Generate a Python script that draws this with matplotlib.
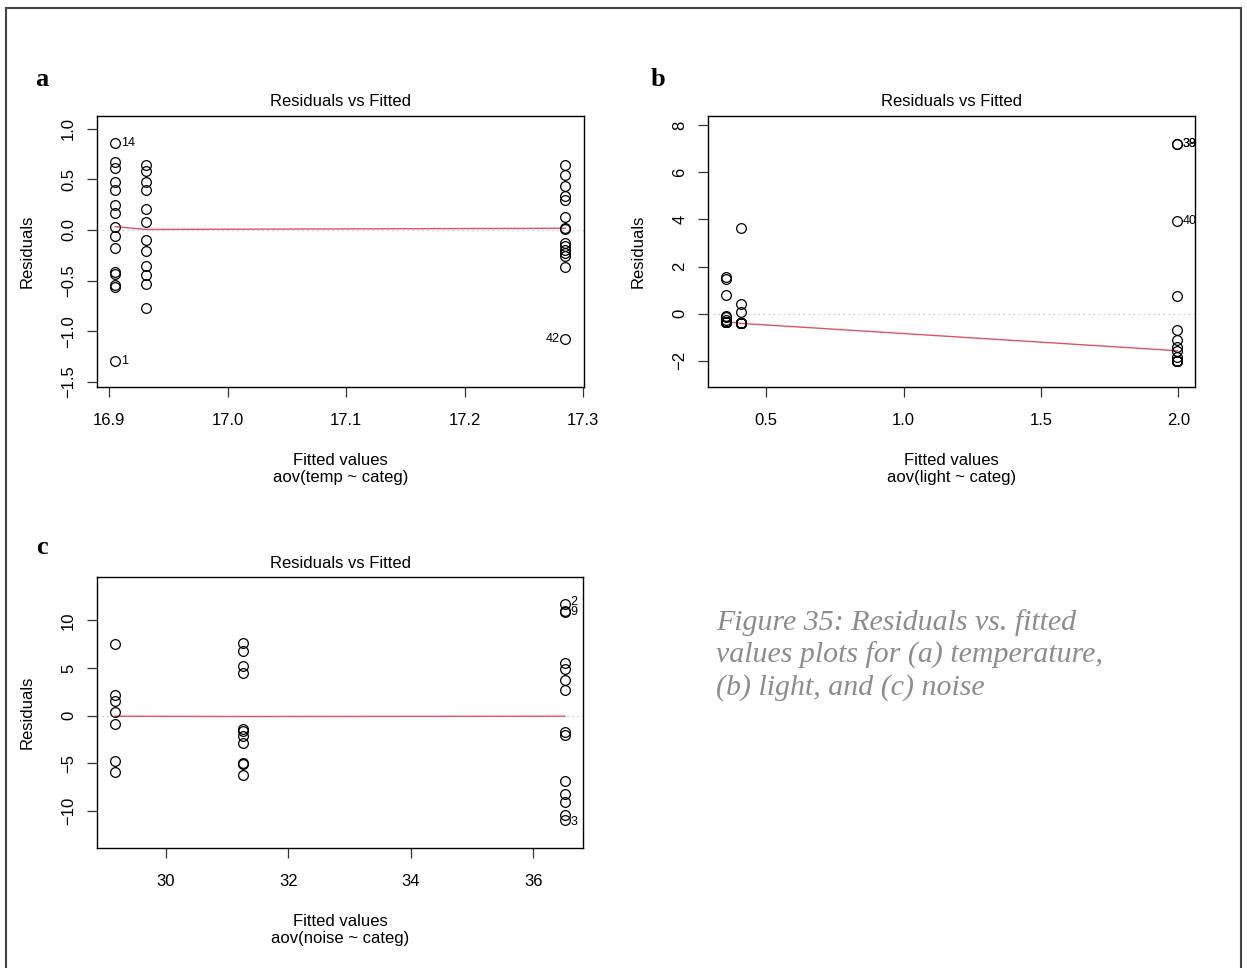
import matplotlib
matplotlib.use("Agg")
import matplotlib.pyplot as plt
from matplotlib.lines import Line2D
import numpy as np

W, H = 1247, 968

# ---- data ----
# panel a: aov(temp ~ categ)
a_fitted = [16.905, 16.931, 17.285]
a_resid = [
    [0.855, 0.668, 0.609, 0.477, 0.395, 0.25, 0.164, 0.033, -0.059, -0.178,
     -0.418, -0.437, -0.539, -0.559, -1.289],
    [0.641, 0.586, 0.477, 0.395, 0.207, 0.079, -0.099, -0.204, -0.355, -0.444,
     -0.536, -0.766],
    [0.642, 0.543, 0.43, 0.336, 0.296, 0.131, 0.02, 0.01, -0.13, -0.16, -0.2,
     -0.23, -0.26, -0.368, -1.079],
]
a_smooth = [0.033, 0.005, 0.017]
a_ids = ["14", "1", "42"]
a_id_x = [16.905, 16.905, 17.285]
a_id_y = [0.855, -1.289, -1.079]
a_id_side = ["r", "r", "l"]
a_xticks = [16.9, 17.0, 17.1, 17.2, 17.3]
a_xticklabels = ["16.9", "17.0", "17.1", "17.2", "17.3"]
a_yticks = [-1.5, -1.0, -0.5, 0.0, 0.5, 1.0]
a_yticklabels = ["\u22121.5", "\u22121.0", "\u22120.5", "0.0", "0.5", "1.0"]

# panel b: aov(light ~ categ)
b_fitted = [0.354, 0.409, 1.996]
b_resid = [
    [1.57, 1.46, 0.78, -0.08, -0.15, -0.25, -0.354, -0.354, -0.354, -0.354,
     -0.354, -0.354, -0.354, -0.354],
    [3.63, 0.41, 0.07, -0.409, -0.409, -0.409, -0.409, -0.409, -0.409, -0.409,
     -0.409, -0.409, -0.409],
    [7.22, 7.22, 3.94, 0.75, -0.7, -1.12, -1.4, -1.6, -1.83, -1.996, -1.996,
     -1.996, -1.996, -1.996, -1.996],
]
b_smooth = [-0.34, -0.41, -1.57]
b_ids = ["38", "39", "40"]
b_id_x = [1.996, 1.996, 1.996]
b_id_y = [7.22, 7.22, 3.94]
b_id_side = ["r", "r", "r"]
b_xticks = [0.5, 1.0, 1.5, 2.0]
b_xticklabels = ["0.5", "1.0", "1.5", "2.0"]
b_yticks = [-2, 0, 2, 4, 6, 8]
b_yticklabels = ["\u22122", "0", "2", "4", "6", "8"]

# panel c: aov(noise ~ categ)
c_fitted = [29.17, 31.26, 36.52]
c_resid = [
    [7.55, 2.13, 1.53, 0.38, -0.91, -4.76, -5.94],
    [7.65, 6.81, 5.17, 4.47, -1.44, -1.61, -2.17, -2.83, -4.97, -5.07, -6.19],
    [11.7, 10.95, 10.85, 5.51, 4.93, 3.7, 2.65, -1.72, -2.07, -6.89, -8.18,
     -9.06, -10.38, -10.9],
]
c_smooth = [-0.05, -0.08, -0.05]
c_ids = ["2", "9", "3"]
c_id_x = [36.52, 36.52, 36.52]
c_id_y = [11.9, 10.85, -11.1]
c_id_side = ["r", "r", "r"]
c_xticks = [30, 32, 34, 36]
c_xticklabels = ["30", "32", "34", "36"]
c_yticks = [-10, -5, 0, 5, 10]
c_yticklabels = ["\u221210", "\u22125", "0", "5", "10"]

SANS = ["Liberation Sans", "DejaVu Sans"]
SERIF = ["Liberation Serif", "DejaVu Serif"]
plt.rcParams["font.family"] = SANS
plt.rcParams["axes.linewidth"] = 1.0


def px(x, y):
    return x / W, 1 - y / H


def panel(box, fitted, resid, smooth, ids, id_x, id_y, id_side,
          xticks, xticklabels, yticks, yticklabels, xlim, ylim, sub):
    x0, y0, x1, y1 = box
    ax = fig.add_axes([x0 / W, 1 - y1 / H, (x1 - x0) / W, (y1 - y0) / H])
    xs = np.concatenate([[f] * len(r) for f, r in zip(fitted, resid)])
    ys = np.concatenate(resid)
    ax.axhline(0, color="#bebebe", lw=0.9, ls=(0, (1, 3)), zorder=1)
    ax.plot(xs, ys, "o", mfc="none", mec="black", ms=7, mew=0.9, zorder=3)
    ax.plot(fitted, smooth, color="#DF536B", lw=1.0, zorder=2)
    for t, xv, yv, side in zip(ids, id_x, id_y, id_side):
        if side == "r":
            ax.annotate(t, (xv, yv), xytext=(4, 0), textcoords="offset points",
                        ha="left", va="center", fontsize=9, annotation_clip=False)
        else:
            ax.annotate(t, (xv, yv), xytext=(-4, 0), textcoords="offset points",
                        ha="right", va="center", fontsize=9, annotation_clip=False)
    ax.set_xlim(*xlim)
    ax.set_ylim(*ylim)
    ax.set_xticks(xticks)
    ax.set_xticklabels(xticklabels)
    ax.set_yticks(yticks)
    ax.set_yticklabels(yticklabels, rotation=90, va="center")
    ax.tick_params(direction="out", length=7, width=0.9, labelsize=12,
                   color="#333333")
    ax.tick_params(axis="x", pad=12)
    ax.tick_params(axis="y", pad=8)
    cx = (x0 + x1) / 2
    fig.text(*px(cx, y0 - 14), "Residuals vs Fitted", ha="center",
             va="center", fontsize=12)
    fig.text(*px(cx, y1 + 73), "Fitted values", ha="center", va="center",
             fontsize=12)
    fig.text(*px(cx, y1 + 91), sub, ha="center", va="center", fontsize=12)
    fig.text(*px(x0 - 70, (y0 + y1) / 2), "Residuals", ha="center",
             va="center", rotation=90, fontsize=12)
    return ax


fig = plt.figure(figsize=(W / 100, H / 100), dpi=100)

panel((97, 116, 584, 387), a_fitted, a_resid, a_smooth, a_ids, a_id_x, a_id_y,
      a_id_side, a_xticks, a_xticklabels, a_yticks, a_yticklabels,
      (16.8896, 17.3008), (-1.55, 1.125), "aov(temp ~ categ)")
panel((708, 116, 1195, 387), b_fitted, b_resid, b_smooth, b_ids, b_id_x,
      b_id_y, b_id_side, b_xticks, b_xticklabels, b_yticks, b_yticklabels,
      (0.2885, 2.0605), (-3.11, 8.39), "aov(light ~ categ)")
panel((97, 577, 583, 848), c_fitted, c_resid, c_smooth, c_ids, c_id_x, c_id_y,
      c_id_side, c_xticks, c_xticklabels, c_yticks, c_yticklabels,
      (28.876, 36.814), (-13.87, 14.55), "aov(noise ~ categ)")

# panel letters
for letter, (lx, ly) in zip(["a", "b", "c"], [(42, 80), (658, 80), (42, 548)]):
    fig.text(*px(lx, ly), letter, ha="center", va="center", fontsize=19,
             fontweight="bold", family=SERIF)

# caption
fig.text(*px(716, 655),
         "Figure 35: Residuals vs. fitted\nvalues plots for (a) temperature,\n(b) light, and (c) noise",
         ha="left", va="center", fontsize=21.5, style="italic", family=SERIF,
         color="#8c8c8c", linespacing=1.24)

# outer frame
for xs_, ys_ in [([6, 6], [8, 968]), ([6, 1241], [8, 8]), ([1241, 1241], [8, 968])]:
    fig.add_artist(Line2D([x / W for x in xs_], [1 - y / H for y in ys_],
                          color="#444444", lw=1.5))

fig.savefig("out.png", dpi=100)
